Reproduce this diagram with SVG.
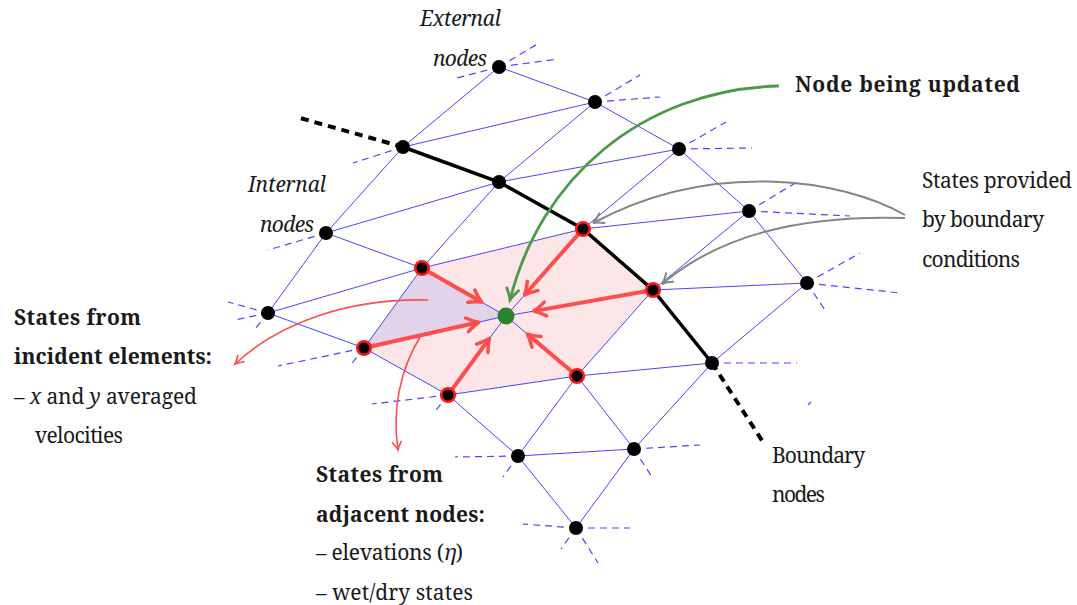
<svg xmlns="http://www.w3.org/2000/svg" width="1077" height="605" viewBox="0 0 1077 605">
<style>
.e{stroke:#4646ff;stroke-width:1;fill:none}
.d{stroke:#4646ff;stroke-width:1.2;fill:none;stroke-dasharray:7 5}
.bd{stroke:#000;stroke-width:3.5;fill:none}
.bdd{stroke:#000;stroke-width:4;fill:none;stroke-dasharray:8 6}
.ra{stroke:#ff4d4d;stroke-width:4;fill:none;marker-end:url(#mra)}
.ta{stroke:#ff4d4d;stroke-width:1.6;fill:none;marker-end:url(#mta)}
.ga{stroke:#858585;stroke-width:2;fill:none;marker-end:url(#mga)}
.n{fill:#000}
.r{fill:#000;stroke:#ff1a1a;stroke-width:2.6}
.t{font-family:"Noto Serif","Liberation Serif",serif;font-size:21px;fill:#1a1a1a}
.b{font-weight:bold}
.i{font-style:italic}
</style>
<defs>
<marker id="mra" markerUnits="userSpaceOnUse" markerWidth="24" markerHeight="24" viewBox="-16 -12 24 24" refX="0" refY="0" orient="auto">
<path d="M-12,-7 Q-5,-2 0,0 Q-5,2 -12,7" fill="none" stroke="#ff4d4d" stroke-width="3.5" stroke-linecap="round" stroke-linejoin="round"/>
</marker>
<marker id="mta" markerUnits="userSpaceOnUse" markerWidth="16" markerHeight="16" viewBox="-10 -8 16 16" refX="0" refY="0" orient="auto">
<path d="M-8,-4.5 Q-3,-1 0,0 Q-3,1 -8,4.5" fill="none" stroke="#ff4d4d" stroke-width="1.6" stroke-linecap="round"/>
</marker>
<marker id="mga" markerUnits="userSpaceOnUse" markerWidth="18" markerHeight="18" viewBox="-12 -9 18 18" refX="0" refY="0" orient="auto">
<path d="M-10,-5.5 Q-4,-1 0,0 Q-4,1 -10,5.5" fill="none" stroke="#858585" stroke-width="2" stroke-linecap="round"/>
</marker>
<marker id="mgr" markerUnits="userSpaceOnUse" markerWidth="20" markerHeight="20" viewBox="-14 -10 20 20" refX="0" refY="0" orient="auto">
<path d="M-11,-6 Q-4,-1.5 0,0 Q-4,1.5 -11,6" fill="none" stroke="#4a9a4a" stroke-width="2.8" stroke-linecap="round"/>
</marker>
</defs>

<g id="regions">
<polygon points="422,268 583,229 653,290 577,376 448,395 364,348" fill="#fde6e7"/>
<polygon points="422,268 506,316 364,348" fill="#e2d3ea"/>
</g>

<g id="connectors">
<g id="mesh-edges">
<path class="e" d="M499,67 L595,102 L679,149 L749,211 L807,283"/>
<path class="e" d="M499,67 L403,147 M595,102 L403,147 M595,102 L499,182 M679,149 L499,182 M679,149 L583,229 M749,211 L583,229 M749,211 L653,290 M807,283 L653,290 M807,283 L712,363"/>
<path class="e" d="M403,147 L326,233 M499,182 L326,233 M499,182 L422,268 M326,233 L268,313 M326,233 L422,268 M268,313 L422,268 M268,313 L364,348"/>
<path class="e" d="M422,268 L583,229 M422,268 L364,348 M364,348 L448,395 M448,395 L577,376 M577,376 L653,290 M577,376 L712,363"/>
<path class="e" d="M506,316 L422,268 M506,316 L364,348 M506,316 L448,395 M506,316 L577,376 M506,316 L653,290 M506,316 L583,229"/>
<path class="e" d="M448,395 L518,456 M577,376 L518,456 M577,376 L634,449 M712,363 L634,449 M518,456 L634,449 M518,456 L576,528 M634,449 L576,528"/>
</g>
<g id="mesh-stubs">
<path class="d" d="M499,67 L539,43 M499,67 L558,59 M499,67 L457,78"/>
<path class="d" d="M595,102 L640,75 M595,102 L660,97"/>
<path class="d" d="M679,149 L726,122 M679,149 L752,148"/>
<path class="d" d="M749,211 L797,182 M749,211 L850,216"/>
<path class="d" d="M807,283 L860,253 M807,283 L900,293 M807,283 L825,310"/>
<path class="d" d="M712,363 L797,363 M808,405 L811,402"/>
<path class="d" d="M403,147 L353,163"/>
<path class="d" d="M326,233 L268,250"/>
<path class="d" d="M268,313 L228,302 M268,313 L235,320 M268,313 L255,329"/>
<path class="d" d="M364,348 L278,366 M364,348 L350,366"/>
<path class="d" d="M448,395 L372,404 M448,395 L433,414"/>
<path class="d" d="M518,456 L455,457 M518,456 L503,477"/>
<path class="d" d="M634,449 L700,445 M634,449 L652,477"/>
<path class="d" d="M576,528 L523,524 M576,528 L630,528 M576,528 L561,549 M576,528 L598,563"/>
</g>
<g id="boundary">
<path class="bd" d="M403,147 L499,182 L583,229 L653,290 L712,363"/>
<path class="bdd" d="M403,147 L300,118"/>
<path class="bdd" d="M712,363 L763,442"/>
</g>
<g id="flux-arrows">
<path class="ra" d="M422,268 L481.7,302.1"/>
<path class="ra" d="M364,348 L478.7,322.2"/>
<path class="ra" d="M448,395 L489.4,338.6"/>
<path class="ra" d="M577,376 L527.4,334.1"/>
<path class="ra" d="M653,290 L533.6,311.1"/>
<path class="ra" d="M583,229 L524.6,295"/>
</g>
<g id="callouts">
<path d="M779,86 C 640,90 540,180 510,300" fill="none" stroke="#4a9a4a" stroke-width="2.8" marker-end="url(#mgr)"/>
<path class="ga" d="M905,215 C 840,178 710,160 593,223"/>
<path class="ga" d="M905,218 C 800,215 720,235 662,284"/>
<path class="ta" d="M428,300 C 350,298 280,322 235,364"/>
<path class="ta" d="M420,337 C 400,370 392,410 398,450"/>
</g>
</g>

<g id="nodes">
<g id="node-e1"><circle class="n" cx="499" cy="67" r="7"/></g>
<g id="node-e2"><circle class="n" cx="595" cy="102" r="7"/></g>
<g id="node-e3"><circle class="n" cx="679" cy="149" r="7"/></g>
<g id="node-e4"><circle class="n" cx="749" cy="211" r="7"/></g>
<g id="node-e5"><circle class="n" cx="807" cy="283" r="7"/></g>
<g id="node-b1"><circle class="n" cx="403" cy="147" r="7"/></g>
<g id="node-b2"><circle class="n" cx="499" cy="182" r="7"/></g>
<g id="node-b3"><circle class="r" cx="583" cy="229" r="6.8"/></g>
<g id="node-b4"><circle class="r" cx="653" cy="290" r="6.8"/></g>
<g id="node-b5"><circle class="n" cx="712" cy="363" r="7"/></g>
<g id="node-i1"><circle class="n" cx="326" cy="233" r="7"/></g>
<g id="node-i2"><circle class="n" cx="268" cy="313" r="7"/></g>
<g id="node-r1"><circle class="r" cx="422" cy="268" r="6.8"/></g>
<g id="node-r2"><circle class="r" cx="364" cy="348" r="6.8"/></g>
<g id="node-r3"><circle class="r" cx="448" cy="395" r="6.8"/></g>
<g id="node-r4"><circle class="r" cx="577" cy="376" r="6.8"/></g>
<g id="node-c"><circle cx="506" cy="316" r="8.5" fill="#2d822d"/></g>
<g id="node-n1"><circle class="n" cx="518" cy="456" r="7"/></g>
<g id="node-n2"><circle class="n" cx="634" cy="449" r="7"/></g>
<g id="node-n3"><circle class="n" cx="576" cy="528" r="7"/></g>
</g>

<g id="labels">
<g id="label-external">
<text class="t i" x="420" y="26" textLength="81">External</text>
<text class="t i" x="433" y="66" textLength="54">nodes</text>
</g>
<g id="label-internal">
<text class="t i" x="248" y="192" textLength="78">Internal</text>
<text class="t i" x="260" y="232" textLength="54">nodes</text>
</g>
<g id="label-updated">
<text class="t b" x="795" y="92" textLength="225">Node being updated</text>
</g>
<g id="label-bc">
<text class="t" x="922" y="188" textLength="150">States provided</text>
<text class="t" x="922" y="227" textLength="122">by boundary</text>
<text class="t" x="922" y="267" textLength="98">conditions</text>
</g>
<g id="label-incident">
<text class="t b" x="14" y="325" textLength="127">States from</text>
<text class="t b" x="14" y="364" textLength="198">incident elements:</text>
<text class="t" x="14" y="404" textLength="183">– <tspan class="i">x</tspan> and <tspan class="i">y</tspan> averaged</text>
<text class="t" x="35" y="443" textLength="88">velocities</text>
</g>
<g id="label-adjacent">
<text class="t b" x="316" y="482" textLength="127">States from</text>
<text class="t b" x="316" y="522" textLength="169">adjacent nodes:</text>
<text class="t" x="316" y="560" textLength="147">– elevations (<tspan class="i">η</tspan>)</text>
<text class="t" x="316" y="600" textLength="157">– wet/dry states</text>
</g>
<g id="label-boundary">
<text class="t" x="772" y="463" textLength="93">Boundary</text>
<text class="t" x="772" y="502" textLength="53">nodes</text>
</g>
</g>
</svg>
